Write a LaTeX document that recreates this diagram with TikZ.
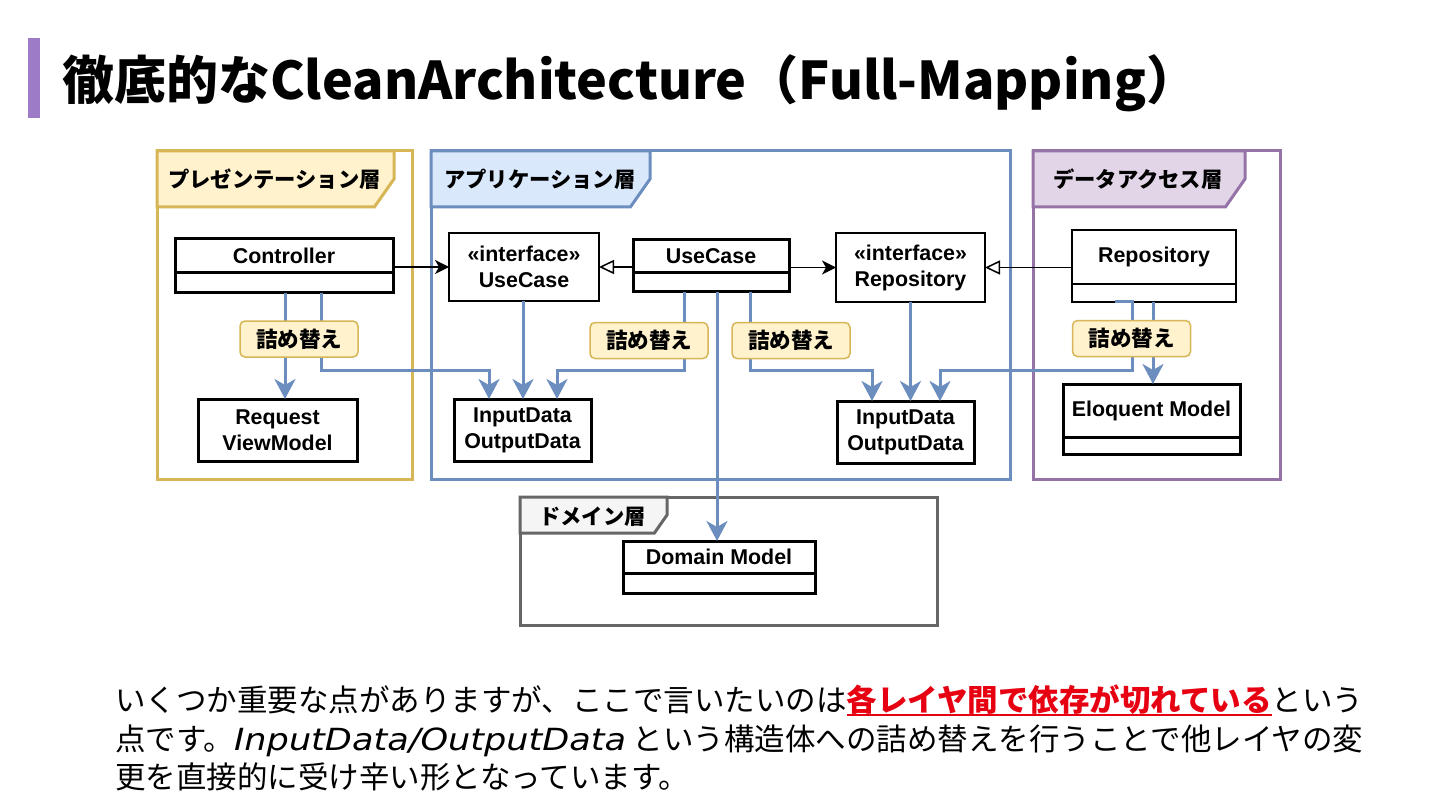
\documentclass[tikz,border=0pt]{standalone}
\usepackage{fontspec}
\setmainfont{Noto Sans CJK JP}
\newfontfamily\umlfont{Liberation Sans}
\newfontfamily\latinfont{DejaVu Sans}[FakeStretch=1.15]
\usetikzlibrary{positioning,arrows.meta}

\definecolor{yellowline}{HTML}{D6B656}
\definecolor{yellowfill}{HTML}{FFF2CC}
\definecolor{blueline}{HTML}{6C8EBF}
\definecolor{bluefill}{HTML}{DAE8FC}
\definecolor{purpleline}{HTML}{9673A6}
\definecolor{purplefill}{HTML}{E1D5E7}
\definecolor{grayline}{HTML}{666666}
\definecolor{grayfill}{HTML}{F5F5F5}
\definecolor{titlebar}{HTML}{9E7BC6}
\definecolor{alertred}{HTML}{E60012}

\newcommand{\layertab}[5]{%
 \draw[fill=#4, draw=#5, line width=3pt] (#1.north west) -- ++(#2,0) -- ++(0,#3*0.5) -- ++(-#3*0.35,#3*0.5) -- ++(-#2+#3*0.35,0) -- cycle;}
\newcommand{\alertul}[1]{\setbox0\hbox{#1}\rlap{\rule[-5pt]{\wd0}{2.5pt}}\box0}

\begin{document}
\begin{tikzpicture}[x=1pt, y=-1pt,
 layerframe/.style={draw=#1, line width=3pt, fill=white, outer sep=0pt},
 layerlabel/.style={anchor=base west, inner sep=0pt, font=\bfseries\fontsize{21.3pt}{24pt}\selectfont},
 classhead/.style={draw, line width=3pt, fill=white, inner sep=0pt, outer sep=0pt, font=\umlfont\bfseries\fontsize{21.4pt}{26pt}\selectfont},
 classbody/.style={draw, line width=3pt, fill=white, inner sep=0pt, outer sep=0pt},
 iface/.style={draw, line width=2pt, fill=white, inner sep=0pt, outer sep=0pt, align=center, font=\umlfont\bfseries\fontsize{21.4pt}{26pt}\selectfont},
 databox/.style={draw, line width=3pt, fill=white, inner sep=0pt, outer sep=0pt, align=center, font=\umlfont\bfseries\fontsize{21.4pt}{26pt}\selectfont},
 mapping/.style={draw=yellowline, fill=yellowfill, line width=1.5pt, rounded corners=5pt, inner sep=0pt, minimum width=118pt, minimum height=36pt, font=\bfseries\fontsize{21.5pt}{24pt}\selectfont},
 flow/.style={draw=blueline, line width=3pt, -{Stealth[length=20pt,width=21pt,inset=6pt]}},
 calls/.style={line width=1.5pt, -{Stealth[length=14pt,width=14pt,inset=4pt]}},
 realizes/.style={line width=1.5pt, -{Triangle[open,length=15pt,width=14pt,fill=white]}},
 bodytext/.style={anchor=base west, inner sep=0pt, font=\fontsize{30.5pt}{38.5pt}\selectfont}]

 \fill[white] (0,0) rectangle (1440,810);
 \useasboundingbox (0,0) rectangle (1440,810);

 \fill[titlebar] (28,38) rectangle (40,118);
 \node (title) [anchor=base west, inner sep=0pt, font=\bfseries\fontsize{52pt}{60pt}\selectfont] at (62,100) {徹底的なCleanArchitecture（Full-Mapping）};

 \node (pres) [layerframe=yellowline, minimum width=255pt, minimum height=328pt] at (284.5,315) {};
 \node (app) [layerframe=blueline, minimum width=579pt, minimum height=328pt] at (720.5,315) {};
 \node (data) [layerframe=purpleline, minimum width=247pt, minimum height=328pt] at (1156.5,315) {};
 \node (domain) [layerframe=grayline, minimum width=417pt, minimum height=128pt] at (728.5,561) {};

 \layertab{pres}{237}{56}{yellowfill}{yellowline}
 \layertab{app}{219}{56}{bluefill}{blueline}
 \layertab{data}{212}{56}{purplefill}{purpleline}
 \layertab{domain}{147}{36}{grayfill}{grayline}

 \node (preslabel) [layerlabel] at (168,188) {プレゼンテーション層};
 \node (applabel) [layerlabel] at (444,188) {アプリケーション層};
 \node (datalabel) [layerlabel] at (1053,188) {データアクセス層};
 \node (domainlabel) [layerlabel] at (539,524) {ドメイン層};

 \node (ctrl) [classhead, minimum width=218pt, minimum height=34pt] at (284,256) {Controller};
 \node (ctrlb) [classbody, minimum width=218pt, minimum height=20pt, below=0pt of ctrl] {};
 \node (iuc) [iface, minimum width=150pt, minimum height=68pt] at (524,267) {«interface»\\UseCase};
 \node (uc) [classhead, minimum width=156pt, minimum height=33pt] at (711,256.5) {UseCase};
 \node (ucb) [classbody, minimum width=156pt, minimum height=19pt, below=0pt of uc] {};
 \node (irep) [iface, minimum width=149pt, minimum height=69pt] at (910.5,267.5) {«interface»\\Repository};
 \node (rep) [classhead, line width=2pt, minimum width=164pt, minimum height=54pt] at (1154,257) {Repository};
 \node (repb) [classbody, line width=2pt, minimum width=164pt, minimum height=18pt, below=0pt of rep] {};

 \node (req) [databox, minimum width=159pt, minimum height=62pt] at (277.5,430) {Request\\ViewModel};
 \node (inL) [databox, minimum width=137pt, minimum height=62pt] at (522.5,430) {InputData\\OutputData};
 \node (inR) [databox, minimum width=137pt, minimum height=62pt] at (905.5,432) {InputData\\OutputData};
 \node (elo) [classhead, minimum width=177pt, minimum height=53pt] at (1151.5,410.5) {Eloquent Model};
 \node (elob) [classbody, minimum width=177pt, minimum height=17pt, below=0pt of elo] {};
 \node (dom) [classhead, minimum width=192pt, minimum height=32pt] at (719,557) {Domain Model};
 \node (domb) [classbody, minimum width=192pt, minimum height=20pt, below=0pt of dom] {};

 \draw[calls] (ctrl.east |- iuc.west) -- (iuc.west);
 \draw[realizes] (uc.west |- iuc.east) -- (iuc.east);
 \draw[calls] (uc.east |- irep.west) -- (irep.west);
 \draw[realizes] (rep.west |- irep.east) -- (irep.east);

 \draw[flow] ([xshift=1pt]ctrlb.south) -- ([xshift=1pt]ctrlb.south |- req.north);
 \draw[flow] ([xshift=37pt]ctrlb.south) -- ++(0,77) -| ([xshift=-33.5pt]inL.north);
 \draw[flow] ([xshift=-1pt]iuc.south) -- ([xshift=-1pt]iuc.south |- inL.north);
 \draw[flow] ([xshift=-27pt]ucb.south) -- ++(0,78) -| ([xshift=34.5pt]inL.north);
 \draw[flow] ([xshift=6pt]ucb.south) -- ([xshift=-2pt]dom.north);
 \draw[flow] ([xshift=39pt]ucb.south) -- ++(0,78) -| ([xshift=-33.5pt]inR.north);
 \draw[flow] (irep.south) -- (irep.south |- inR.north);
 \draw[flow] ([xshift=-39pt]repb.south) -- ([xshift=-22pt]repb.south) -- ++(0,68) -| ([xshift=34.5pt]inR.north);
 \draw[flow] ([xshift=-1pt]repb.south) -- ([xshift=-1pt]repb.south |- elo.north);

 \node (map1) [mapping] at (299,339) {詰め替え};
 \node (map2) [mapping] at (649,340.5) {詰め替え};
 \node (map3) [mapping] at (791,340.5) {詰め替え};
 \node (map4) [mapping] at (1131.5,338.5) {詰め替え};

 \node (line1) [bodytext] at (115,711) {いくつか重要な点がありますが、ここで言いたいのは{\color{alertred}\bfseries\alertul{各レイヤ間で依存が切れている}}という};
 \node (line2) [bodytext] at (115,750) {点です。{\latinfont\itshape InputData/OutputData} という構造体への詰め替えを行うことで他レイヤの変};
 \node (line3) [bodytext] at (115,788) {更を直接的に受け辛い形となっています。};
\end{tikzpicture}
\end{document}
